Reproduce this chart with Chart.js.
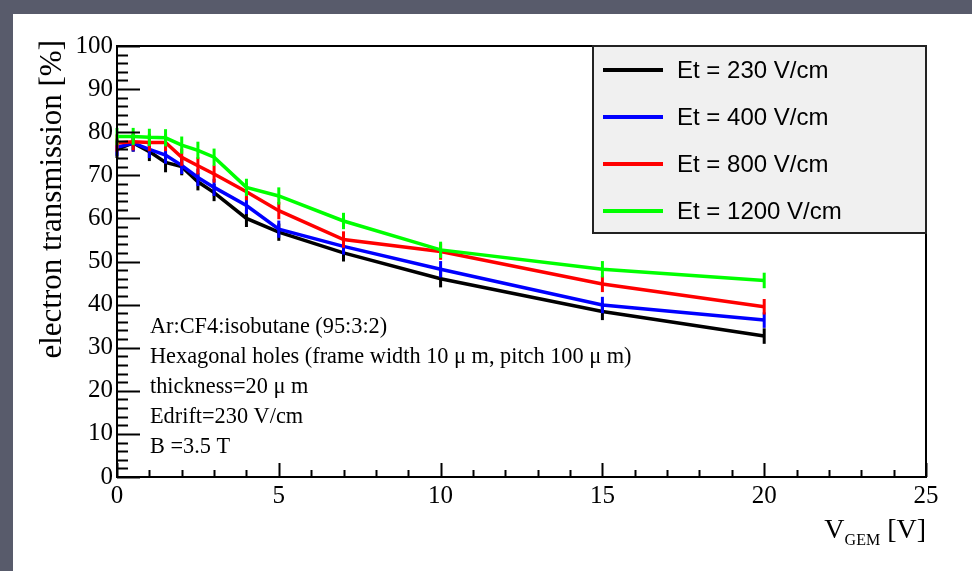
<!DOCTYPE html>
<html>
<head>
<meta charset="utf-8">
<script src="https://cdn.jsdelivr.net/npm/chart.js@4.4.1/dist/chart.umd.min.js"></script>
<style>
  body { margin: 0; background: #585b6b; }
  canvas { display: block; }
</style>
</head>
<body>
<canvas id="grafica" width="972" height="571"></canvas>
<script>
// --- DATOS ---
const vgem = [0, 0.5, 1, 1.5, 2, 2.5, 3, 4, 5, 7, 10, 15, 20];
const et230 = [76, 77.5, 75.5, 73, 72, 68.5, 66, 60, 56.8, 52, 46, 38.4, 32.7];
const et400 = [76.5, 77.5, 76, 74.7, 72.3, 69.5, 67.2, 63, 57.5, 53.5, 48.2, 39.9, 36.4];
const et800 = [77.5, 77.8, 77.6, 77.6, 74.2, 72.2, 70.3, 66.2, 61.8, 55.1, 52.3, 44.8, 39.5];
const et1200 = [79, 79, 78.8, 78.7, 77, 75.8, 74.2, 67.2, 65.2, 59.4, 52.7, 48.2, 45.6];
const err230 = [2, 2, 2.2, 2.3, 2, 2, 2, 2, 2, 2, 2, 2, 1.8];
const err400 = [2, 2, 2, 2, 2, 2, 2, 2, 2, 1.9, 1.9, 1.9, 1.8];
const err800 = [2, 2, 2, 2, 2, 2, 2, 2, 2, 1.9, 1.9, 1.9, 1.8];
const err1200 = [2, 2, 2, 2, 2, 2, 2, 2, 2, 1.9, 1.9, 1.9, 1.8];
const etLabels = ['Et = 230 V/cm', 'Et = 400 V/cm', 'Et = 800 V/cm', 'Et = 1200 V/cm'];
const etColores = ['#000000', '#0000ff', '#ff0000', '#00ff00'];
const xTicks = [0, 5, 10, 15, 20, 25];
const yTicks = [0, 10, 20, 30, 40, 50, 60, 70, 80, 90, 100];
const notas = [
  'Ar:CF4:isobutane (95:3:2)',
  'Hexagonal holes (frame width 10 \u03bc m, pitch 100 \u03bc m)',
  'thickness=20 \u03bc m',
  'Edrift=230 V/cm',
  'B =3.5 T'
];

const series = [et230, et400, et800, et1200];
const errores = [err230, err400, err800, err1200];

function puntos(ys) {
  return vgem.map((x, i) => ({ x: x, y: ys[i] }));
}

const SERIF = '"Liberation Serif", "DejaVu Serif", serif';
const SANS = '"Liberation Sans", Arial, sans-serif';

// --- PLUGIN: fondo, marco, ejes estilo ROOT, leyenda ---
const estiloRoot = {
  id: 'estiloRoot',
  beforeDraw(chart) {
    const ctx = chart.ctx;
    ctx.save();
    ctx.fillStyle = '#585b6b';
    ctx.fillRect(0, 0, chart.width, chart.height);
    ctx.fillStyle = '#ffffff';
    ctx.fillRect(13, 14, chart.width - 13, chart.height - 14);
    ctx.restore();
  },
  afterDatasetDraw(chart, args) {
    // barras de error verticales
    const ctx = chart.ctx;
    const xs = chart.scales.x, ys = chart.scales.y;
    const ds = chart.data.datasets[args.index];
    const err = errores[args.index];
    ctx.save();
    ctx.strokeStyle = ds.borderColor;
    ctx.lineWidth = 3;
    ds.data.forEach((p, i) => {
      const px = xs.getPixelForValue(p.x);
      ctx.beginPath();
      ctx.moveTo(px, ys.getPixelForValue(p.y - err[i]));
      ctx.lineTo(px, ys.getPixelForValue(p.y + err[i]));
      ctx.stroke();
    });
    ctx.restore();
  },
  afterDraw(chart) {
    const ctx = chart.ctx;
    const a = chart.chartArea;
    const xs = chart.scales.x, ys = chart.scales.y;
    ctx.save();

    // marco
    ctx.strokeStyle = '#000';
    ctx.lineWidth = 2;
    ctx.strokeRect(a.left, a.top, a.right - a.left, a.bottom - a.top);

    // ticks eje Y (mayores cada 10, menores cada 2)
    ctx.lineWidth = 2;
    for (let v = 0; v <= 100; v += 2) {
      const py = Math.round(ys.getPixelForValue(v)) + 0.5;
      const largo = (v % 10 === 0) ? 23 : 11;
      ctx.beginPath();
      ctx.moveTo(a.left, py);
      ctx.lineTo(a.left + largo, py);
      ctx.stroke();
    }
    // ticks eje X (mayores cada 5, menores cada 1)
    for (let v = 0; v <= 25; v += 1) {
      const px = Math.round(xs.getPixelForValue(v)) + 0.5;
      const largo = (v % 5 === 0) ? 14 : 7;
      ctx.beginPath();
      ctx.moveTo(px, a.bottom);
      ctx.lineTo(px, a.bottom - largo);
      ctx.stroke();
    }

    // etiquetas
    ctx.fillStyle = '#000';
    ctx.font = '25px ' + SERIF;
    ctx.textAlign = 'right';
    ctx.textBaseline = 'middle';
    yTicks.forEach(v => ctx.fillText(String(v), a.left - 4, ys.getPixelForValue(v)));
    ctx.textAlign = 'center';
    ctx.textBaseline = 'top';
    xTicks.forEach(v => ctx.fillText(String(v), xs.getPixelForValue(v), a.bottom + 7));

    // titulo eje Y
    ctx.save();
    ctx.translate(61, 40);
    ctx.rotate(-Math.PI / 2);
    ctx.font = '31px ' + SERIF;
    ctx.textAlign = 'right';
    ctx.textBaseline = 'alphabetic';
    ctx.fillText('electron transmission [%]', 0, 0);
    ctx.restore();

    // titulo eje X: V_GEM [V]
    ctx.textBaseline = 'alphabetic';
    ctx.textAlign = 'left';
    ctx.font = '28px ' + SERIF;
    const wCorch = ctx.measureText(' [V]').width;
    ctx.font = '16px ' + SERIF;
    const wSub = ctx.measureText('GEM').width;
    ctx.font = '28px ' + SERIF;
    const wV = ctx.measureText('V').width;
    let tx = a.right - wCorch - wSub - wV;
    ctx.fillText('V', tx, 538);
    ctx.font = '16px ' + SERIF;
    ctx.fillText('GEM', tx + wV, 545);
    ctx.font = '28px ' + SERIF;
    ctx.fillText(' [V]', tx + wV + wSub, 538);

    // notas dentro del grafico
    ctx.font = '22.3px ' + SERIF;
    ctx.textBaseline = 'middle';
    notas.forEach((t, i) => ctx.fillText(t, 150, 327 + i * 30));

    // leyenda
    ctx.fillStyle = '#f0f0f0';
    ctx.fillRect(593, a.top, a.right - 593, 233 - a.top);
    ctx.strokeStyle = '#222';
    ctx.lineWidth = 2;
    ctx.strokeRect(593, a.top, a.right - 593, 233 - a.top);
    ctx.font = '24px ' + SANS;
    ctx.textBaseline = 'middle';
    etLabels.forEach((t, i) => {
      const cy = 70 + i * 47;
      ctx.strokeStyle = etColores[i];
      ctx.lineWidth = 4;
      ctx.beginPath();
      ctx.moveTo(603, cy);
      ctx.lineTo(663, cy);
      ctx.stroke();
      ctx.fillStyle = '#000';
      ctx.fillText(t, 677, cy + 1);
    });

    ctx.restore();
  }
};

function inicializarGrafica() {
  const ctx = document.getElementById('grafica').getContext('2d');
  new Chart(ctx, {
    type: 'line',
    data: {
      datasets: series.map((s, i) => ({
        label: etLabels[i],
        data: puntos(s),
        borderColor: etColores[i],
        backgroundColor: etColores[i],
        borderWidth: 3.5,
        pointRadius: 0,
        tension: 0,
        fill: false,
        order: 4 - i
      }))
    },
    options: {
      responsive: false,
      animation: false,
      layout: { padding: { left: 117, top: 46, right: 46, bottom: 94 } },
      scales: {
        x: { type: 'linear', min: 0, max: 25, display: false },
        y: { min: 0, max: 100, display: false }
      },
      plugins: { legend: { display: false }, tooltip: { enabled: false } }
    },
    plugins: [estiloRoot]
  });
}

window.onload = inicializarGrafica;
</script>
</body>
</html>
